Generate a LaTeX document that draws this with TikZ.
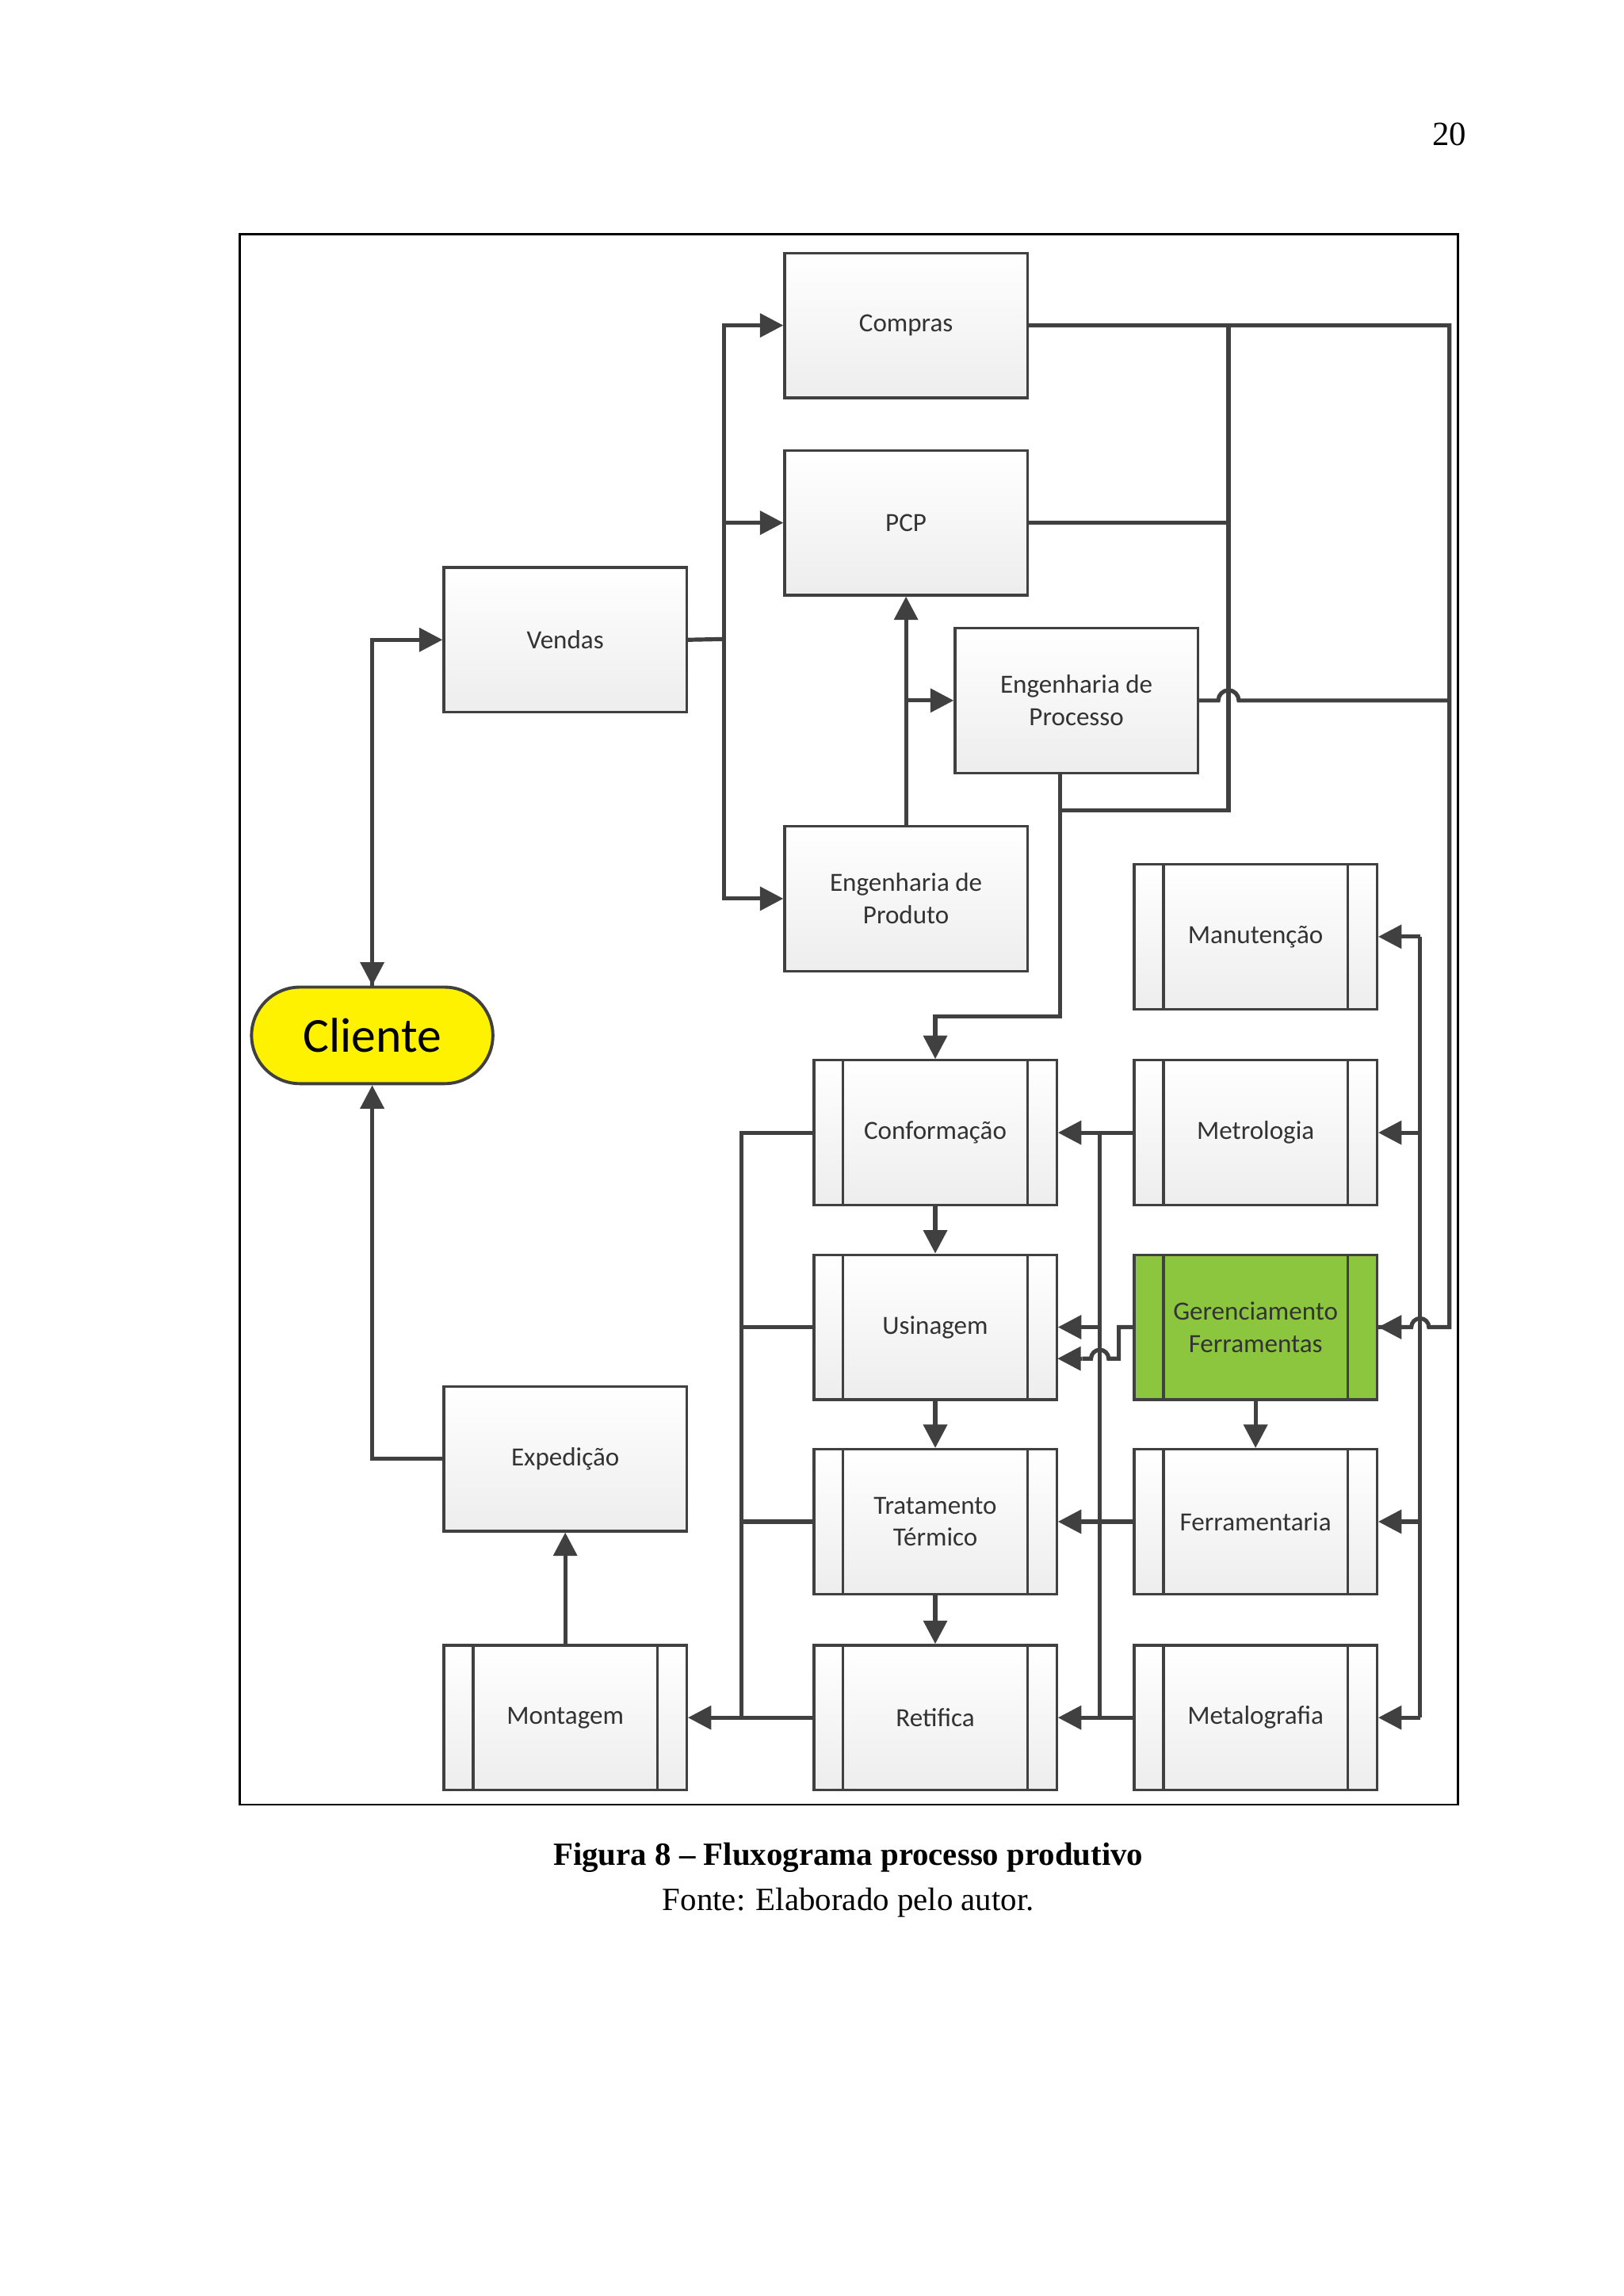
\documentclass[tikz,border=0pt]{standalone}
\usepackage{fontspec}
\setmainfont{Liberation Serif}
\newfontfamily\carlitofont{Carlito}
\usetikzlibrary{arrows.meta}
\definecolor{ln}{HTML}{404040}
\definecolor{gerg}{HTML}{8CC63F}
\begin{document}
\begin{tikzpicture}[x=0.1mm,y=-0.1mm,
 box/.style={draw=ln,line width=0.5pt,top color=white,bottom color=gray!14,minimum width=16.6mm,minimum height=9.9mm,inner sep=0pt,align=center,font=\carlitofont\fontsize{5.1}{6.3}\selectfont,text=black!80},
 proc/.style={box,path picture={\draw[ln,line width=0.5pt] ([xshift=2mm]path picture bounding box.north west)--([xshift=2mm]path picture bounding box.south west);\draw[ln,line width=0.5pt] ([xshift=-2mm]path picture bounding box.north east)--([xshift=-2mm]path picture bounding box.south east);}},
 c/.style={draw=ln,line width=0.8pt},
 a/.style={c,-{Triangle[length=1.6mm,width=1.6mm]}}]
\useasboundingbox (0,0) rectangle (1110,1570);
\node at (991,92) {\fontsize{6.6}{8}\selectfont 20};
\draw[black,line width=0.4pt] (164,160) rectangle (997,1234);
\node[box] (compras) at (619.5,222.5) {Compras};
\node[box] (pcp) at (619.5,357.5) {PCP};
\node[box] (vendas) at (386.5,437.5) {Vendas};
\node[box] (engproc) at (736,479) {Engenharia de\\Processo};
\node[box] (engprod) at (619.5,614.5) {Engenharia de\\Produto};
\node[proc] (manut) at (858.5,640.5) {Manutenção};
\node[proc] (conf) at (639.5,774.5) {Conformação};
\node[proc] (metro) at (858.5,774.5) {Metrologia};
\node[proc] (usin) at (639.5,907.5) {Usinagem};
\node[proc,top color=gerg,bottom color=gerg] (ger) at (858.5,907.5) {Gerenciamento\\Ferramentas};
\node[proc] (trat) at (639.5,1040.5) {Tratamento\\Térmico};
\node[proc] (ferr) at (858.5,1040.5) {Ferramentaria};
\node[proc] (mont) at (386.5,1174.5) {Montagem};
\node[proc] (retif) at (639.5,1174.5) {Retifica};
\node[proc] (metal) at (858.5,1174.5) {Metalografia};
\node[box] (exped) at (386.5,997.5) {Expedição};
\node[draw=ln,line width=0.6pt,fill=yellow,rounded corners=3.3mm,minimum width=16.5mm,minimum height=6.6mm,font=\carlitofont\fontsize{9.5}{11}\selectfont] (cliente) at (254.5,708) {Cliente};
% top section
\coordinate (t1) at (495,437);
\draw[c] (vendas.east) -- (t1);
\draw[a] (t1) |- (compras.west);
\draw[a] (t1) |- (pcp.west);
\draw[a] (t1) |- (engprod.west);
\draw[a] (cliente.north) |- (vendas.west);
\draw[{Triangle[length=1.6mm,width=1.6mm]}-,c] (cliente.north) -- (254.5,437);
\draw[a] (engprod.north) -- (pcp.south);
\draw[a] (619.5,479) -- (engproc.west);
\draw[c] (compras.east) -- (991,222.5) -- (991,907.5) -- (977,907.5) arc[start angle=0,end angle=-180,radius=6] -- (ger.east);
\draw[{Triangle[length=1.6mm,width=1.6mm]}-,c] (ger.east) -- (960,907.5);
\draw[c] (840,222.5) -- (840,554) -- (725,554);
\draw[c] (pcp.east) -- (840,357.5);
\draw[c] (engproc.east) -- (833,479) arc[start angle=180,end angle=360,radius=7] -- (991,479);
\draw[a] (725,529) -- (725,695) -- (639.5,695) -- (conf.north);
% right vertical
\draw[c] (971,640.5) -- (971,1174.5);
\draw[a] (971,640.5) -- (manut.east);
\draw[a] (971,774.5) -- (metro.east);
\draw[a] (971,1040.5) -- (ferr.east);
\draw[a] (971,1174.5) -- (metal.east);
% middle vertical
\draw[a] (metro.west) -- (conf.east);
\draw[c] (752,774.5) -- (752,1174.5);
\draw[a] (752,907.5) -- (usin.east);
\draw[a] (ferr.west) -- (trat.east);
\draw[a] (metal.west) -- (retif.east);
\draw[c] (ger.west) -- (765,907.5) -- (765,929) -- (758,929) arc[start angle=0,end angle=-180,radius=6] -- (740,929);
\draw[a] (740,929) -- (723,929);
\draw[a] (ger.south) -- (ferr.north);
% process chain
\draw[a] (conf.south) -- (usin.north);
\draw[a] (usin.south) -- (trat.north);
\draw[a] (trat.south) -- (retif.north);
\draw[c] (conf.west) -- (507,774.5) -- (507,1174.5);
\draw[c] (usin.west) -- (507,907.5);
\draw[c] (trat.west) -- (507,1040.5);
\draw[a] (retif.west) -- (mont.east);
\draw[a] (mont.north) -- (exped.south);
\draw[a] (exped.west) -| (cliente.south);
\node[font=\bfseries\fontsize{6.3}{8}\selectfont] at (580,1270) {Figura 8 -- Fluxograma processo produtivo};
\node[font=\fontsize{6.3}{8}\selectfont] at (580,1301) {Fonte: Elaborado pelo autor.};
\end{tikzpicture}
\end{document}
